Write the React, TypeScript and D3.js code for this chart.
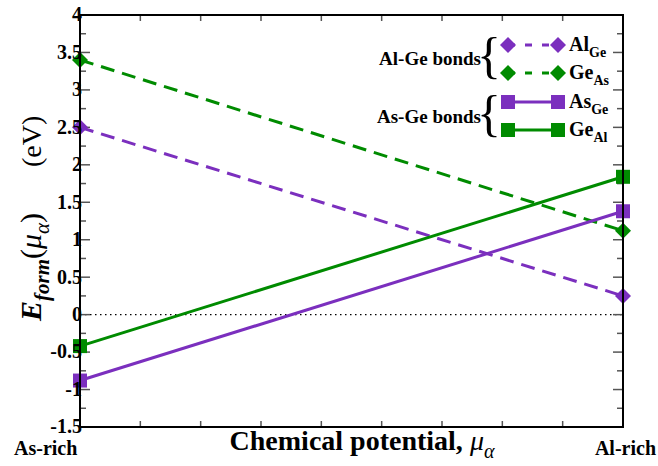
import React from 'react'
import * as d3 from 'd3'

// x positions: 0 = As-rich, 1 = Al-rich
const xEnds = [0, 1]
const alGe = [2.5, 0.25]
const geAs = [3.4, 1.12]
const asGe = [-0.88, 1.38]
const geAl = [-0.42, 1.84]
const yTicks = [-1.5, -1, -0.5, 0, 0.5, 1, 1.5, 2, 2.5, 3, 3.5, 4]
const yTickLabels = ['-1.5', '-1', '-0.5', '0', '0.5', '1', '1.5', '2', '2.5', '3', '3.5', '4']

const purple = '#7b2fbe'
const green = '#008b00'
const font = "'Liberation Serif', 'Times New Roman', serif"

const series = [
  { name: 'Al', sub: 'Ge', values: alGe, color: purple, dashed: true, marker: 'diamond' },
  { name: 'Ge', sub: 'As', values: geAs, color: green, dashed: true, marker: 'diamond' },
  { name: 'As', sub: 'Ge', values: asGe, color: purple, dashed: false, marker: 'square' },
  { name: 'Ge', sub: 'Al', values: geAl, color: green, dashed: false, marker: 'square' },
]

const W = 658
const H = 466
const left = 80, right = 623, top = 15, bottom = 427

const Marker = ({ type, x, y, color }) =>
  type === 'diamond'
    ? <path d={`M${x},${y - 8}L${x + 8},${y}L${x},${y + 8}L${x - 8},${y}Z`} fill={color} />
    : <rect x={x - 7} y={y - 7} width={14} height={14} fill={color} />

const App = () => {
  const x = d3.scaleLinear().domain([0, 1]).range([left, right])
  const y = d3.scaleLinear().domain([-1.5, 4]).range([bottom, top])
  const line = d3.line<number>().x((d, i) => x(xEnds[i])).y(d => y(d))

  const minorY = d3.range(-1.5, 4.001, 0.25).filter(v => Math.abs(v * 2 - Math.round(v * 2)) > 1e-6)
  const xTicks = d3.range(0, 10).map(i => i / 9)

  const legendRows = [45, 73, 102, 130]

  return (
    <svg width={W} height={H} style={{ position: 'absolute', left: 0, top: 0, background: '#fff', fontFamily: font, fontWeight: 'bold' }}>
      {/* zero line */}
      <line x1={left} x2={right} y1={y(0)} y2={y(0)} stroke="#000" strokeWidth={1.3} strokeDasharray="1.5,3.5" />

      {/* ticks */}
      {yTicks.map(v => (
        <g key={'yt' + v}>
          <line x1={left} x2={left + 10} y1={y(v)} y2={y(v)} stroke="#555" strokeWidth={1.5} />
          <line x1={right - 10} x2={right} y1={y(v)} y2={y(v)} stroke="#555" strokeWidth={1.5} />
        </g>
      ))}
      {minorY.map(v => (
        <g key={'ym' + v}>
          <line x1={left} x2={left + 6} y1={y(v)} y2={y(v)} stroke="#555" strokeWidth={1.5} />
          <line x1={right - 6} x2={right} y1={y(v)} y2={y(v)} stroke="#555" strokeWidth={1.5} />
        </g>
      ))}
      {xTicks.map(v => (
        <g key={'xt' + v}>
          <line x1={x(v)} x2={x(v)} y1={bottom} y2={bottom - 6} stroke="#555" strokeWidth={1.5} />
          <line x1={x(v)} x2={x(v)} y1={top} y2={top + 6} stroke="#555" strokeWidth={1.5} />
        </g>
      ))}

      {/* series */}
      {series.map((s, i) => (
        <g key={'s' + i}>
          <path d={line(s.values) || ''} fill="none" stroke={s.color} strokeWidth={3}
            strokeDasharray={s.dashed ? '14,8' : undefined} />
          {s.values.map((v, j) => (
            <Marker key={j} type={s.marker} x={x(xEnds[j])} y={y(v)} color={s.color} />
          ))}
        </g>
      ))}

      {/* frame */}
      <rect x={left} y={top} width={right - left} height={bottom - top} fill="none" stroke="#000" strokeWidth={2} />

      {/* y tick labels */}
      {yTicks.map((v, i) => (
        <text key={'yl' + v} x={left + 2} y={y(v)} dy="0.32em" textAnchor="end" fontSize={20}>{yTickLabels[i]}</text>
      ))}

      {/* x labels */}
      <text x={14} y={455} fontSize={20}>As-rich</text>
      <text x={656} y={455} textAnchor="end" fontSize={20}>Al-rich</text>
      <text x={362} y={450} textAnchor="middle" fontSize={28}>
        Chemical potential, <tspan fontStyle="italic" fontWeight="normal">μ</tspan>
        <tspan fontStyle="italic" fontWeight="normal" fontSize={20} dy={8}>α</tspan>
      </text>

      {/* y label */}
      <g transform="translate(41,215) rotate(-90)">
        <text x={-106} y={0} fontSize={30}>
          <tspan fontStyle="italic">E</tspan>
          <tspan fontStyle="italic" fontSize={21} dy={8}>form</tspan>
          <tspan dy={-8} fontWeight="normal">(</tspan>
          <tspan fontStyle="italic" fontWeight="normal">μ</tspan>
          <tspan fontStyle="italic" fontWeight="normal" fontSize={21} dy={8}>α</tspan>
          <tspan dy={-8} fontWeight="normal">)</tspan>
        </text>
        <text x={48} y={0} fontSize={28} fontWeight="normal">(eV)</text>
      </g>

      {/* legend */}
      <text x={481} y={65} textAnchor="end" fontSize={19}>Al-Ge bonds</text>
      <text x={481} y={123} textAnchor="end" fontSize={19}>As-Ge bonds</text>
      <text x={489} y={72} fontSize={50} fontWeight="normal" textAnchor="middle">{'{'}</text>
      <text x={489} y={130} fontSize={50} fontWeight="normal" textAnchor="middle">{'{'}</text>
      {series.map((s, i) => {
        const ly = legendRows[i]
        return (
          <g key={'lg' + i}>
            <line x1={508} x2={558} y1={ly} y2={ly} stroke={s.color} strokeWidth={3}
              strokeDasharray={s.dashed ? '7,10' : undefined} />
            <Marker type={s.marker} x={508} y={ly} color={s.color} />
            <Marker type={s.marker} x={558} y={ly} color={s.color} />
            <text x={569} y={ly + 6} fontSize={20}>
              {s.name}<tspan fontSize={14} dy={6}>{s.sub}</tspan>
            </text>
          </g>
        )
      })}
    </svg>
  )
}

export default App
